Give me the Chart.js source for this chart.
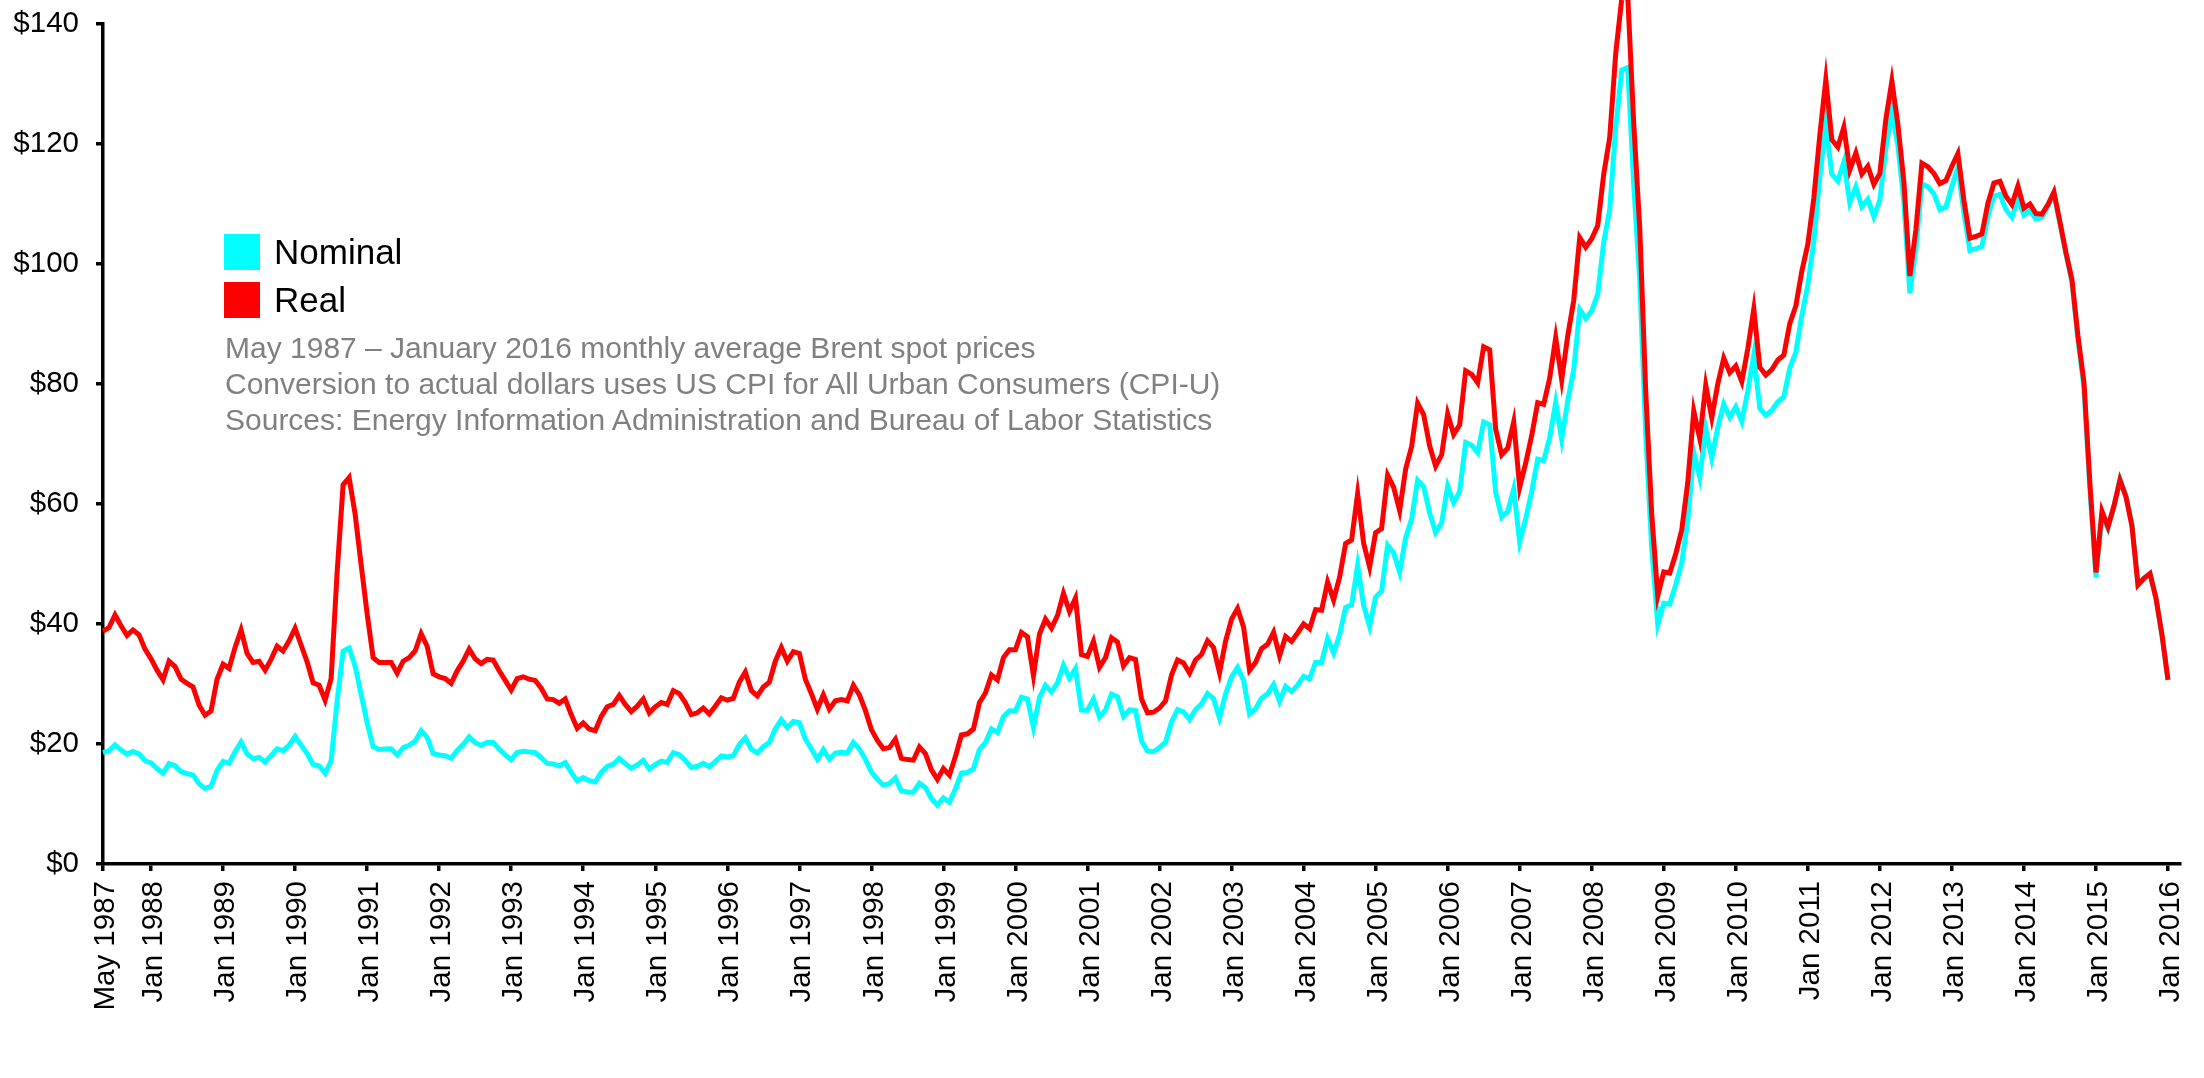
<!DOCTYPE html>
<html>
<head>
<meta charset="utf-8">
<script src="https://cdn.jsdelivr.net/npm/chart.js@4.4.1/dist/chart.umd.min.js"></script>
<style>
    html, body { margin: 0; padding: 0; background: #fff; }
    #wrap { position: relative; width: 2204px; height: 1078px; overflow: hidden; }
    #chart { position: absolute; left: 0; top: 0; }
    .key { position: absolute; left: 224px; height: 36px; font-family: "Liberation Sans", Arial, sans-serif; font-size: 35px; line-height: 36px; color: #000; white-space: nowrap; }
    .key span { display: inline-block; width: 36px; height: 36px; vertical-align: top; margin-right: 14px; }
    .note { position: absolute; left: 225px; top: 330px; font-family: "Liberation Sans", Arial, sans-serif; font-size: 30px; line-height: 36px; color: #808080; white-space: nowrap; }
</style>
</head>
<body>
<div id="wrap">
    <canvas id="chart" width="2204" height="1078"></canvas>
    <div class="key" style="top:234px"><span style="background:#00ffff"></span>Nominal</div>
    <div class="key" style="top:282px"><span style="background:#ff0000"></span>Real</div>
    <div class="note">
        May 1987 – January 2016 monthly average Brent spot prices<br>
        Conversion to actual dollars uses US CPI for All Urban Consumers (CPI-U)<br>
        Sources: Energy Information Administration and Bureau of Labor Statistics
    </div>
</div>
<script>
const MONTH_NAMES = ['Jan', 'Feb', 'Mar', 'Apr', 'May', 'Jun', 'Jul', 'Aug', 'Sep', 'Oct', 'Nov', 'Dec'];
const START_YEAR = 1987;
const START_MONTH = 4; // May

// Brent spot, $/bbl, monthly averages
const NOMINAL = [
    18.58, 18.86, 19.86, 18.98, 18.31, 18.76, 18.35, 17.21,
    16.83, 15.91, 15.13, 16.73, 16.38, 15.38, 15.05, 14.84, 13.36, 12.59, 12.95, 15.61,
    17.09, 16.79, 18.70, 20.32, 18.37, 17.57, 17.78, 16.99, 18.05, 19.18, 18.88, 19.79,
    21.25, 19.81, 18.39, 16.61, 16.35, 15.10, 17.17, 27.17, 35.48, 36.00, 33.00, 28.30,
    23.57, 19.54, 19.08, 19.18, 19.19, 18.17, 19.40, 19.77, 20.50, 22.21, 21.11, 18.41,
    18.16, 18.05, 17.63, 18.92, 19.89, 21.16, 20.24, 19.74, 20.27, 20.26, 19.14, 18.19,
    17.37, 18.63, 18.79, 18.69, 18.55, 17.73, 16.76, 16.69, 16.34, 16.89, 15.28, 13.86,
    14.42, 13.89, 13.68, 15.26, 16.27, 16.63, 17.59, 16.74, 15.97, 16.51, 17.27, 15.84,
    16.57, 17.16, 16.94, 18.55, 18.21, 17.25, 16.09, 16.28, 16.78, 16.21, 17.07, 18.01,
    17.85, 18.06, 19.93, 21.02, 19.12, 18.51, 19.55, 20.22, 22.54, 24.06, 22.71, 23.76,
    23.54, 20.84, 19.19, 17.44, 19.07, 17.45, 18.49, 18.61, 18.52, 20.24, 19.15, 17.44,
    15.36, 14.10, 13.13, 13.39, 14.34, 12.17, 12.01, 11.96, 13.45, 12.77, 10.92, 9.82,
    11.03, 10.29, 12.51, 15.15, 15.26, 15.87, 19.08, 20.22, 22.52, 21.90, 24.57, 25.53,
    25.51, 27.78, 27.49, 22.76, 27.74, 29.80, 28.68, 30.20, 33.14, 30.96, 32.55, 25.66,
    25.62, 27.50, 24.50, 25.66, 28.31, 27.85, 24.61, 25.68, 25.62, 20.54, 18.80, 18.71,
    19.42, 20.28, 23.70, 25.73, 25.35, 24.08, 25.74, 26.65, 28.40, 27.54, 24.34, 28.33,
    31.18, 32.77, 30.61, 25.00, 25.86, 27.65, 28.35, 29.89, 27.11, 29.61, 28.75, 29.81,
    31.28, 30.86, 33.63, 33.59, 37.57, 35.18, 38.22, 42.74, 43.20, 49.78, 43.11, 39.60,
    44.51, 45.48, 53.10, 51.88, 48.65, 54.35, 57.52, 63.98, 62.91, 58.54, 55.24, 56.86,
    62.99, 60.21, 62.06, 70.26, 69.78, 68.56, 73.67, 73.23, 61.96, 57.81, 58.76, 62.47,
    53.68, 57.56, 62.05, 67.49, 67.21, 71.05, 76.93, 70.76, 77.17, 82.34, 92.41, 90.93,
    92.18, 94.99, 103.64, 109.07, 122.80, 132.32, 132.72, 113.24, 97.23, 71.58, 52.45, 39.95,
    43.44, 43.32, 46.54, 50.18, 57.30, 68.61, 64.44, 72.51, 67.65, 72.77, 76.66, 74.46,
    76.17, 73.75, 78.83, 84.82, 75.95, 74.76, 75.58, 77.04, 77.84, 82.67, 85.28, 91.45,
    96.52, 103.72, 114.64, 123.26, 114.99, 113.83, 116.97, 110.22, 112.83, 109.55, 110.77, 107.87,
    110.69, 119.33, 125.45, 119.75, 110.34, 95.16, 102.62, 113.36, 112.86, 111.71, 109.06, 109.49,
    112.96, 116.05, 108.47, 102.25, 102.56, 102.92, 107.93, 111.28, 111.60, 109.08, 107.79, 110.76,
    108.12, 108.90, 107.48, 107.76, 109.54, 111.80, 106.77, 101.61, 97.09, 87.43, 79.44, 62.34,
    47.76, 58.10, 55.89, 59.52, 64.08, 61.48, 56.56, 46.52, 47.62, 48.43, 44.27, 38.01,
    30.70
];

// same, in January 2016 dollars
const REAL = [
    38.8, 39.4, 41.5, 39.7, 38.1, 39.0, 38.2, 35.8,
    34.2, 32.3, 30.7, 33.8, 32.9, 30.8, 30.1, 29.5, 26.5, 24.8, 25.5, 30.8,
    33.3, 32.6, 36.1, 39.0, 35.1, 33.6, 33.8, 32.3, 34.1, 36.3, 35.5, 37.2,
    39.3, 36.5, 33.7, 30.2, 29.8, 27.3, 30.9, 48.6, 63.2, 64.4, 58.3, 49.9,
    41.7, 34.4, 33.6, 33.6, 33.6, 31.8, 33.8, 34.4, 35.5, 38.4, 36.3, 31.7,
    31.2, 30.9, 30.1, 32.2, 33.8, 35.8, 34.2, 33.4, 34.1, 34.0, 32.2, 30.6,
    29.0, 30.9, 31.2, 30.8, 30.6, 29.3, 27.5, 27.4, 26.8, 27.5, 24.9, 22.6,
    23.5, 22.5, 22.2, 24.6, 26.2, 26.6, 28.1, 26.6, 25.4, 26.3, 27.5, 25.2,
    26.2, 26.9, 26.6, 28.9, 28.4, 26.9, 24.9, 25.2, 26.0, 25.0, 26.3, 27.7,
    27.3, 27.6, 30.3, 32.0, 28.9, 28.0, 29.5, 30.3, 33.8, 36.1, 33.8, 35.4,
    35.1, 30.8, 28.4, 25.8, 28.2, 25.8, 27.2, 27.4, 27.2, 29.8, 28.2, 25.6,
    22.4, 20.6, 19.2, 19.4, 20.8, 17.6, 17.4, 17.3, 19.5, 18.4, 15.7, 14.1,
    15.9, 14.8, 17.9, 21.5, 21.7, 22.5, 26.9, 28.5, 31.5, 30.7, 34.4, 35.7,
    35.7, 38.6, 37.9, 31.4, 38.3, 40.8, 39.3, 41.4, 45.1, 42.1, 44.3, 34.9,
    34.6, 37.1, 32.8, 34.4, 37.7, 37.0, 33.0, 34.4, 34.1, 27.5, 25.2, 25.3,
    26.0, 27.2, 31.5, 34.0, 33.5, 31.8, 34.0, 34.9, 37.2, 36.1, 31.9, 37.1,
    40.8, 42.6, 39.5, 32.3, 33.6, 35.9, 36.6, 38.6, 34.7, 37.9, 37.1, 38.5,
    40.0, 39.2, 42.4, 42.3, 47.0, 44.0, 47.8, 53.4, 54.0, 61.7, 53.5, 49.5,
    55.2, 55.9, 64.8, 62.8, 58.9, 65.8, 69.6, 76.8, 74.9, 69.7, 66.3, 68.2,
    75.0, 71.6, 73.2, 82.2, 81.6, 80.2, 86.2, 85.7, 72.5, 68.2, 69.3, 73.7,
    62.8, 66.8, 71.4, 76.9, 76.6, 81.0, 87.7, 80.7, 88.0, 93.9, 104.4, 102.8,
    104.2, 106.4, 115.0, 121.1, 135.1, 144.2, 144.7, 123.4, 106.0, 78.7, 58.2, 44.7,
    48.7, 48.5, 51.7, 55.7, 63.6, 75.5, 70.9, 79.8, 74.4, 80.0, 84.3, 81.9,
    83.0, 80.4, 85.9, 92.5, 82.8, 81.5, 82.4, 84.0, 84.8, 90.1, 93.0, 98.8,
    103.3, 111.0, 121.5, 130.7, 120.7, 119.5, 122.8, 115.7, 118.5, 115.0, 116.3, 113.3,
    115.1, 124.1, 130.5, 123.3, 113.7, 98.0, 105.7, 116.8, 116.2, 115.1, 113.4, 113.9,
    116.3, 118.4, 110.6, 104.3, 104.6, 105.0, 110.1, 113.5, 113.8, 111.3, 109.9, 113.0,
    109.3, 110.0, 108.4, 108.3, 109.9, 112.0, 107.0, 101.9, 97.4, 88.0, 80.3, 63.3,
    48.6, 58.8, 56.2, 59.7, 64.0, 61.2, 56.3, 46.5, 47.6, 48.4, 44.3, 38.2,
    30.7
];

const Y_TICKS = [0, 20, 40, 60, 80, 100, 120, 140];

// one label per month, "May 1987" ... "Jan 2016"
const MONTHS = NOMINAL.map((v, i) => {
    const m = START_MONTH + i;
    return MONTH_NAMES[m % 12] + ' ' + (START_YEAR + Math.floor(m / 12));
});

// labelled ticks: first month and every January
const X_TICKS = MONTHS.map((m, i) => i).filter(i => i === 0 || MONTHS[i].startsWith('Jan'));

const FONT = '"Liberation Sans", Arial, Helvetica, sans-serif';
Chart.defaults.font.family = FONT;
Chart.defaults.color = '#000';

const points = (arr) => arr.map((v, i) => ({ x: i, y: v }));

const axisLine = {
    display: true,
    drawOnChartArea: false,
    drawTicks: true,
    tickLength: 7,
    color: '#000',
    lineWidth: 3.5
};

new Chart(document.getElementById('chart'), {
    type: 'line',
    data: {
        datasets: [
            {
                label: 'Real',
                data: points(REAL),
                borderColor: '#ff0000',
                backgroundColor: '#ff0000',
                borderWidth: 5,
                pointRadius: 0,
                tension: 0,
                clip: false,
                order: 0
            },
            {
                label: 'Nominal',
                data: points(NOMINAL),
                borderColor: '#00ffff',
                backgroundColor: '#00ffff',
                borderWidth: 5,
                pointRadius: 0,
                tension: 0,
                clip: false,
                order: 1
            }
        ]
    },
    options: {
        responsive: false,
        animation: false,
        events: [],
        layout: {
            padding: { top: 24, right: 24, left: 0, bottom: 0 }
        },
        plugins: {
            legend: { display: false },
            tooltip: { enabled: false }
        },
        scales: {
            x: {
                type: 'linear',
                min: 0,
                max: MONTHS.length + 1,
                grid: axisLine,
                border: { display: true, color: '#000', width: 3.5 },
                afterBuildTicks: (scale) => {
                    scale.ticks = X_TICKS.map(v => ({ value: v }));
                },
                afterFit: (scale) => {
                    scale.height = 214;
                    scale.paddingLeft = 0;
                    scale.paddingRight = 0;
                },
                ticks: {
                    autoSkip: false,
                    minRotation: 90,
                    maxRotation: 90,
                    padding: 10,
                    labelOffset: 3,
                    font: { size: 29.5 },
                    color: '#000',
                    callback: (value) => MONTHS[value]
                }
            },
            y: {
                min: 0,
                max: 140,
                grid: axisLine,
                border: { display: true, color: '#000', width: 3.5 },
                afterBuildTicks: (scale) => {
                    scale.ticks = Y_TICKS.map(v => ({ value: v }));
                },
                afterFit: (scale) => {
                    scale.width = 103;
                    scale.paddingTop = 0;
                    scale.paddingBottom = 0;
                },
                ticks: {
                    padding: 17,
                    font: { size: 29.5 },
                    color: '#000',
                    callback: (value) => '$' + value
                }
            }
        }
    }
});
</script>
</body>
</html>
